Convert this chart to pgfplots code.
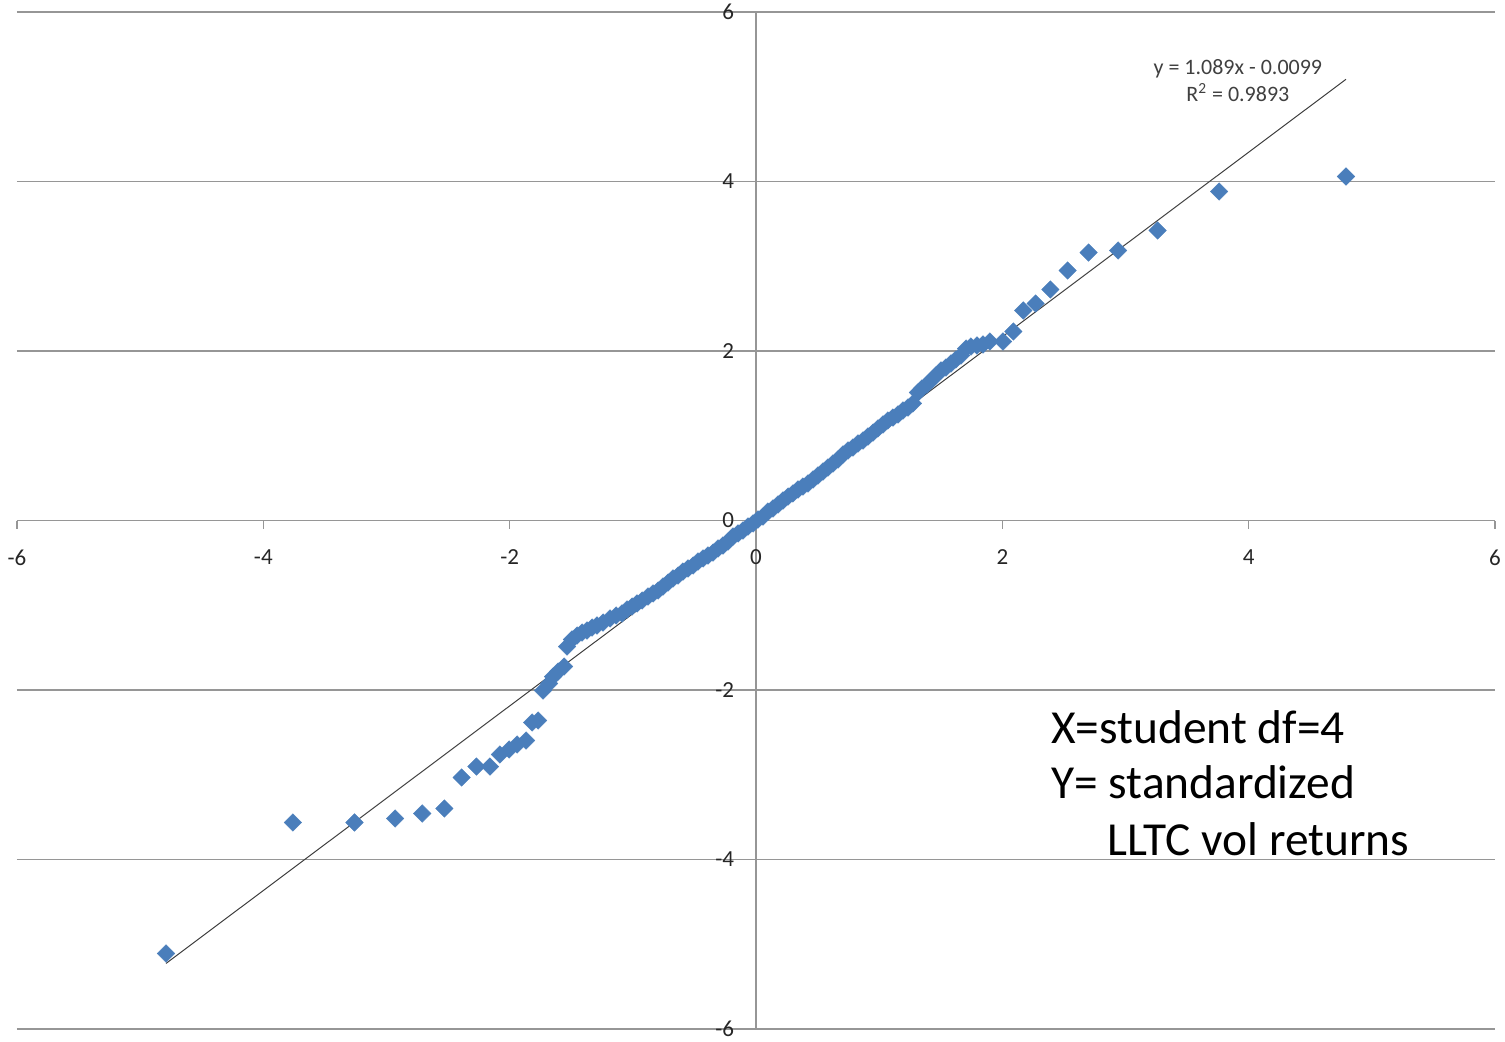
\documentclass[border=0pt]{standalone}
\usepackage{pgfplots}
\pgfplotsset{compat=1.18}
\usepackage{fontspec}
\setmainfont{Carlito}
\definecolor{mk}{RGB}{74,126,187}
\definecolor{gridc}{RGB}{150,150,150}
\definecolor{txt}{RGB}{64,64,64}
\pgfplotstableread{
x y
-4.79 -5.109
-3.76 -3.563
-3.26 -3.563
-2.93 -3.516
-2.71 -3.457
-2.53 -3.398
-2.39 -3.032
-2.27 -2.903
-2.16 -2.903
-2.08 -2.761
-2.005 -2.702
-1.940 -2.643
-1.867 -2.596
-1.818 -2.383
-1.769 -2.360
-1.729 -2.006
-1.680 -1.923
-1.648 -1.841
-1.607 -1.782
-1.558 -1.723
-1.534 -1.487
-1.494 -1.404
-1.453 -1.357
-1.412 -1.322
-1.372 -1.298
-1.331 -1.263
-1.291 -1.239
-1.242 -1.204
-1.185 -1.156
-1.136 -1.121
-1.088 -1.097
-1.047 -1.050
-1.006 -1.015
-0.966 -0.979
-0.925 -0.944
-0.877 -0.897
-0.836 -0.861
-0.795 -0.826
-0.755 -0.779
-0.714 -0.732
-0.674 -0.684
-0.633 -0.649
-0.593 -0.602
-0.552 -0.566
-0.511 -0.531
-0.471 -0.484
-0.430 -0.448
-0.390 -0.413
-0.349 -0.378
-0.308 -0.330
-0.268 -0.295
-0.227 -0.248
-0.187 -0.189
-0.146 -0.153
-0.106 -0.118
-0.065 -0.071
-0.024 -0.035
0.016 0.012
0.057 0.047
0.097 0.106
0.138 0.142
0.179 0.189
0.219 0.236
0.260 0.283
0.300 0.319
0.341 0.366
0.381 0.401
0.422 0.437
0.463 0.484
0.503 0.531
0.544 0.578
0.584 0.625
0.625 0.673
0.666 0.720
0.706 0.779
0.747 0.826
0.787 0.861
0.828 0.909
0.869 0.944
0.909 0.991
0.950 1.038
0.990 1.086
1.031 1.133
1.071 1.180
1.112 1.215
1.153 1.251
1.193 1.298
1.234 1.333
1.274 1.381
1.315 1.510
1.347 1.558
1.388 1.605
1.429 1.664
1.461 1.711
1.502 1.770
1.542 1.805
1.583 1.853
1.623 1.900
1.664 1.947
1.705 2.029
1.745 2.053
1.794 2.065
1.843 2.077
1.899 2.112
2.005 2.112
2.09 2.230
2.17 2.478
2.27 2.560
2.39 2.726
2.53 2.950
2.70 3.162
2.94 3.186
3.26 3.422
3.76 3.882
4.79 4.059
}\qq
\begin{document}
\begin{tikzpicture}
\begin{axis}[
  scale only axis, width=739pt, height=508.5pt,
  xmin=-6,xmax=6,ymin=-6,ymax=6,
  axis lines=middle,
  axis line style={-,draw=gridc,line width=0.6pt},
  hide obscured x ticks=false, hide obscured y ticks=false,
  xtick={-6,-4,...,6}, ytick={-6,-4,...,6},
  ymajorgrids, major grid style={draw=gridc,line width=0.6pt},
  tick align=outside, major tick length=4pt,
  xtick style={draw=gridc,line width=0.6pt},
  ytick style={draw=none},
  /pgf/number format/assume math mode=true,
  tick label style={font=\fontsize{11.5}{13}\selectfont, text=black!85, inner sep=0pt},
  xticklabel style={anchor=center, yshift=-14.5pt},
  yticklabel style={anchor=east, xshift=-6.75pt},
  clip=false,
]
\addplot[only marks, mark=square*, mark size=3.1pt,
  mark options={rotate=45, fill=mk, draw=mk, line width=0.2pt}] table[x=x,y=y] {\qq};
\addplot[black!75, line width=0.5pt] coordinates {(-4.79,-5.226) (4.79,5.206)};
\node[anchor=base, font=\fontsize{11}{13}\selectfont, text=txt] at (axis cs:3.912,5.263) {y = 1.089x - 0.0099};
\node[anchor=base, font=\fontsize{11}{13}\selectfont, text=txt] at (axis cs:3.912,4.944) {R\textsuperscript{2} = 0.9893};
\node[anchor=base west, inner sep=0pt, font=\fontsize{23.7}{28}\selectfont] at (axis cs:2.394,-2.631) {X=student df=4};
\node[anchor=base west, inner sep=0pt, font=\fontsize{23.7}{28}\selectfont] at (axis cs:2.394,-3.280) {Y= standardized};
\node[anchor=base west, inner sep=0pt, font=\fontsize{23.7}{28}\selectfont] at (axis cs:2.849,-3.953) {LLTC vol returns};
\coordinate (bl) at (rel axis cs:0,0);
\coordinate (tr) at (rel axis cs:1,1);
\end{axis}
\pgfresetboundingbox
\useasboundingbox ([shift={(-8.5pt,-6pt)}]bl) rectangle ([shift={(5pt,6pt)}]tr);
\end{tikzpicture}
\end{document}
